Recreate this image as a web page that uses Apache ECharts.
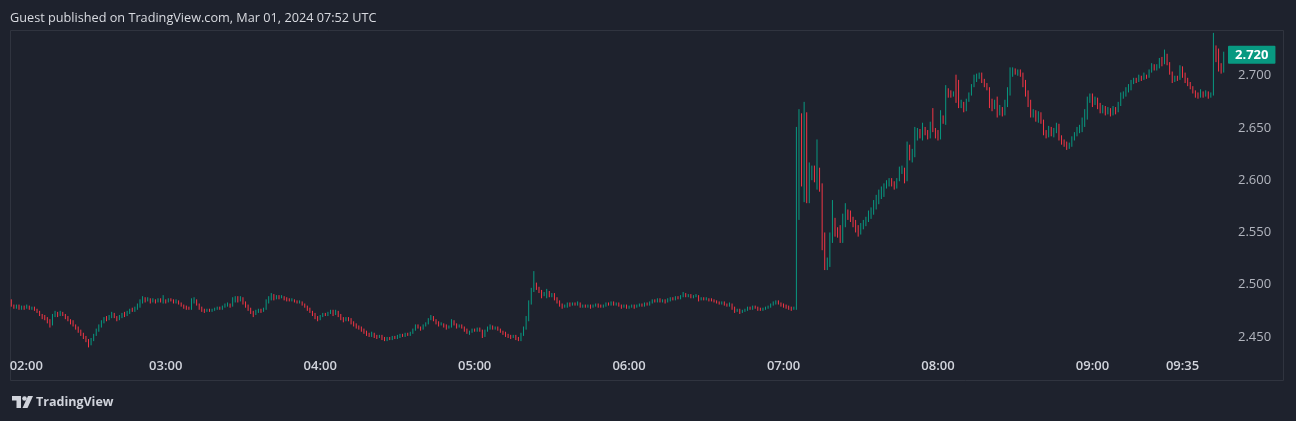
<!DOCTYPE html>
<html>
<head>
<meta charset="utf-8">
<script src="https://cdn.jsdelivr.net/npm/echarts@6/dist/echarts.min.js"></script>
<style>
html,body{margin:0;padding:0;background:#1e222d;}
#chart{width:1296px;height:421px;}
</style>
</head>
<body>
<div id="chart"></div>
<script>
// 1-minute candles starting at 02:00
const startHour = 2;
const xTickLabels = ['02:00','03:00','04:00','05:00','06:00','07:00','08:00','09:00','09:35'];
const yTickValues = [2.45, 2.50, 2.55, 2.60, 2.65, 2.70];

const opens = [
2.484,2.480,2.479,2.480,2.478,2.479,2.478,2.479,2.477,2.478,
2.476,2.474,2.471,2.470,2.468,2.466,2.462,2.470,2.472,2.471,
2.473,2.471,2.469,2.466,2.465,2.461,2.459,2.456,2.453,2.450,
2.447,2.443,2.447,2.452,2.456,2.460,2.464,2.468,2.467,2.470,
2.472,2.470,2.468,2.470,2.472,2.471,2.474,2.476,2.475,2.478,
2.481,2.484,2.487,2.485,2.486,2.484,2.485,2.484,2.486,2.484,
2.485,2.484,2.486,2.485,2.484,2.485,2.482,2.480,2.479,2.478,
2.477,2.484,2.486,2.482,2.478,2.476,2.475,2.476,2.475,2.476,
2.477,2.478,2.477,2.479,2.480,2.481,2.480,2.484,2.486,2.485,
2.487,2.483,2.480,2.477,2.474,2.472,2.474,2.476,2.475,2.477,
2.483,2.487,2.490,2.487,2.489,2.488,2.489,2.487,2.486,2.485,
2.486,2.484,2.483,2.484,2.481,2.479,2.477,2.474,2.472,2.469,
2.467,2.470,2.472,2.471,2.473,2.474,2.472,2.474,2.471,2.468,
2.466,2.468,2.467,2.464,2.462,2.460,2.459,2.457,2.455,2.453,
2.452,2.453,2.451,2.450,2.451,2.449,2.448,2.449,2.448,2.450,
2.449,2.451,2.452,2.451,2.453,2.452,2.454,2.457,2.461,2.459,
2.458,2.461,2.463,2.467,2.469,2.466,2.464,2.462,2.463,2.461,
2.459,2.460,2.465,2.462,2.460,2.461,2.459,2.457,2.454,2.455,
2.457,2.456,2.458,2.456,2.451,2.456,2.458,2.460,2.458,2.459,
2.457,2.455,2.454,2.452,2.451,2.450,2.451,2.449,2.447,2.452,
2.458,2.466,2.482,2.494,2.500,2.497,2.494,2.490,2.491,2.494,
2.490,2.491,2.487,2.484,2.481,2.479,2.480,2.482,2.481,2.482,
2.481,2.482,2.479,2.480,2.479,2.480,2.479,2.480,2.481,2.480,
2.479,2.480,2.482,2.481,2.483,2.481,2.482,2.480,2.479,2.480,
2.478,2.479,2.480,2.479,2.480,2.481,2.480,2.482,2.481,2.483,
2.485,2.484,2.486,2.484,2.485,2.484,2.486,2.487,2.486,2.488,
2.487,2.489,2.491,2.489,2.490,2.488,2.489,2.490,2.486,2.487,
2.486,2.487,2.486,2.485,2.484,2.483,2.482,2.483,2.481,2.480,
2.482,2.478,2.475,2.476,2.474,2.475,2.476,2.478,2.477,2.479,
2.478,2.477,2.476,2.477,2.478,2.479,2.481,2.482,2.484,2.482,
2.481,2.480,2.479,2.478,2.477,2.477,2.646,2.660,2.610,2.655,
2.600,2.612,2.613,2.602,2.612,2.593,2.545,2.518,2.524,2.545,
2.564,2.552,2.548,2.544,2.562,2.572,2.569,2.563,2.558,2.553,
2.549,2.556,2.560,2.563,2.568,2.572,2.578,2.583,2.588,2.591,
2.595,2.598,2.601,2.598,2.594,2.600,2.610,2.611,2.600,2.634,
2.622,2.628,2.646,2.648,2.643,2.650,2.646,2.641,2.653,2.648,
2.642,2.640,2.660,2.656,2.686,2.684,2.681,2.683,2.680,2.670,
2.674,2.668,2.676,2.682,2.690,2.698,2.700,2.701,2.695,2.691,
2.688,2.672,2.670,2.675,2.663,2.668,2.664,2.674,2.686,2.704,
2.706,2.703,2.705,2.702,2.692,2.683,2.673,2.663,2.666,2.659,
2.664,2.657,2.646,2.642,2.650,2.646,2.649,2.653,2.641,2.637,
2.634,2.632,2.634,2.640,2.644,2.648,2.651,2.657,2.666,2.676,
2.681,2.675,2.678,2.671,2.666,2.670,2.665,2.668,2.664,2.668,
2.666,2.672,2.681,2.683,2.687,2.690,2.694,2.696,2.695,2.699,
2.697,2.700,2.699,2.704,2.710,2.707,2.709,2.714,2.712,2.720,
2.712,2.703,2.695,2.698,2.697,2.707,2.702,2.696,2.692,2.689,
2.685,2.681,2.680,2.684,2.681,2.684,2.680,2.683,2.728,2.716,
2.707,2.705
];

const closes = [
2.480,2.479,2.480,2.478,2.479,2.478,2.479,2.477,2.478,2.476,
2.474,2.471,2.470,2.468,2.466,2.462,2.470,2.472,2.471,2.473,
2.471,2.469,2.466,2.465,2.461,2.459,2.456,2.453,2.450,2.447,
2.443,2.447,2.452,2.456,2.460,2.464,2.468,2.467,2.470,2.472,
2.470,2.468,2.470,2.472,2.471,2.474,2.476,2.475,2.478,2.481,
2.484,2.487,2.485,2.486,2.484,2.485,2.484,2.486,2.484,2.485,
2.484,2.486,2.485,2.484,2.485,2.482,2.480,2.479,2.478,2.477,
2.484,2.486,2.482,2.478,2.476,2.475,2.476,2.475,2.476,2.477,
2.478,2.477,2.479,2.480,2.481,2.480,2.484,2.486,2.485,2.487,
2.483,2.480,2.477,2.474,2.472,2.474,2.476,2.475,2.477,2.483,
2.487,2.490,2.487,2.489,2.488,2.489,2.487,2.486,2.485,2.486,
2.484,2.483,2.484,2.481,2.479,2.477,2.474,2.472,2.469,2.467,
2.470,2.472,2.471,2.473,2.474,2.472,2.474,2.471,2.468,2.466,
2.468,2.467,2.464,2.462,2.460,2.459,2.457,2.455,2.453,2.452,
2.453,2.451,2.450,2.451,2.449,2.448,2.449,2.448,2.450,2.449,
2.451,2.452,2.451,2.453,2.452,2.454,2.457,2.461,2.459,2.458,
2.461,2.463,2.467,2.469,2.466,2.464,2.462,2.463,2.461,2.459,
2.460,2.465,2.462,2.460,2.461,2.459,2.457,2.454,2.455,2.457,
2.456,2.458,2.456,2.451,2.456,2.458,2.460,2.458,2.459,2.457,
2.455,2.454,2.452,2.451,2.450,2.451,2.449,2.447,2.452,2.458,
2.466,2.482,2.494,2.500,2.497,2.494,2.490,2.491,2.494,2.490,
2.491,2.487,2.484,2.481,2.479,2.480,2.482,2.481,2.482,2.481,
2.482,2.479,2.480,2.479,2.480,2.479,2.480,2.481,2.480,2.479,
2.480,2.482,2.481,2.483,2.481,2.482,2.480,2.479,2.480,2.478,
2.479,2.480,2.479,2.480,2.481,2.480,2.482,2.481,2.483,2.485,
2.484,2.486,2.484,2.485,2.484,2.486,2.487,2.486,2.488,2.487,
2.489,2.491,2.489,2.490,2.488,2.489,2.490,2.486,2.487,2.486,
2.487,2.486,2.485,2.484,2.483,2.482,2.483,2.481,2.480,2.482,
2.478,2.475,2.476,2.474,2.475,2.476,2.478,2.477,2.479,2.478,
2.477,2.476,2.477,2.478,2.479,2.481,2.482,2.484,2.482,2.481,
2.480,2.479,2.478,2.477,2.478,2.646,2.660,2.610,2.655,2.600,
2.612,2.613,2.602,2.630,2.593,2.545,2.520,2.524,2.545,2.570,
2.550,2.548,2.544,2.562,2.575,2.564,2.562,2.557,2.552,2.549,
2.556,2.560,2.563,2.568,2.572,2.578,2.583,2.588,2.591,2.595,
2.598,2.601,2.598,2.594,2.600,2.610,2.611,2.600,2.634,2.622,
2.628,2.646,2.648,2.643,2.650,2.646,2.641,2.653,2.648,2.642,
2.640,2.660,2.656,2.686,2.684,2.681,2.683,2.680,2.670,2.674,
2.668,2.676,2.682,2.690,2.698,2.700,2.701,2.695,2.691,2.688,
2.672,2.670,2.675,2.663,2.668,2.664,2.674,2.686,2.704,2.706,
2.703,2.705,2.702,2.692,2.683,2.673,2.663,2.666,2.659,2.664,
2.657,2.646,2.642,2.650,2.646,2.649,2.653,2.641,2.637,2.634,
2.632,2.634,2.640,2.644,2.648,2.651,2.657,2.666,2.676,2.681,
2.675,2.678,2.671,2.666,2.670,2.665,2.668,2.664,2.668,2.666,
2.672,2.681,2.683,2.687,2.690,2.694,2.696,2.695,2.699,2.697,
2.700,2.699,2.704,2.710,2.707,2.709,2.714,2.712,2.720,2.712,
2.703,2.695,2.698,2.697,2.707,2.702,2.696,2.692,2.689,2.685,
2.681,2.680,2.684,2.681,2.684,2.680,2.683,2.728,2.716,2.707,
2.705,2.720
];

const highs = [
2.486,2.481,2.481,2.481,2.480,2.480,2.481,2.480,2.479,2.479,
2.477,2.475,2.472,2.471,2.469,2.467,2.472,2.475,2.474,2.475,
2.474,2.472,2.470,2.467,2.466,2.462,2.460,2.457,2.454,2.451,
2.448,2.449,2.453,2.458,2.462,2.466,2.469,2.470,2.471,2.474,
2.473,2.470,2.471,2.473,2.474,2.475,2.477,2.478,2.479,2.482,
2.486,2.489,2.488,2.488,2.487,2.487,2.486,2.487,2.487,2.490,
2.486,2.487,2.487,2.486,2.486,2.485,2.483,2.481,2.480,2.479,
2.487,2.488,2.486,2.482,2.479,2.477,2.477,2.477,2.477,2.478,
2.479,2.479,2.480,2.482,2.483,2.482,2.488,2.489,2.489,2.489,
2.488,2.484,2.481,2.478,2.475,2.476,2.477,2.477,2.478,2.486,
2.489,2.492,2.491,2.490,2.490,2.490,2.489,2.488,2.487,2.487,
2.486,2.485,2.485,2.484,2.482,2.480,2.478,2.475,2.473,2.470,
2.471,2.473,2.473,2.474,2.476,2.476,2.476,2.475,2.472,2.469,
2.469,2.469,2.468,2.465,2.463,2.461,2.460,2.458,2.456,2.454,
2.455,2.454,2.452,2.452,2.452,2.450,2.450,2.450,2.451,2.451,
2.452,2.453,2.453,2.454,2.454,2.455,2.458,2.462,2.462,2.460,
2.462,2.464,2.468,2.471,2.470,2.467,2.465,2.464,2.463,2.462,
2.461,2.467,2.466,2.463,2.462,2.462,2.460,2.458,2.456,2.458,
2.458,2.459,2.459,2.457,2.457,2.460,2.462,2.461,2.460,2.460,
2.458,2.456,2.455,2.453,2.452,2.452,2.452,2.450,2.454,2.460,
2.470,2.485,2.497,2.513,2.502,2.498,2.495,2.493,2.496,2.494,
2.492,2.492,2.488,2.485,2.482,2.481,2.483,2.483,2.483,2.483,
2.484,2.483,2.481,2.481,2.481,2.481,2.481,2.482,2.482,2.481,
2.481,2.483,2.483,2.484,2.484,2.483,2.483,2.481,2.481,2.481,
2.480,2.481,2.481,2.481,2.482,2.482,2.483,2.483,2.484,2.486,
2.486,2.487,2.487,2.486,2.486,2.487,2.488,2.488,2.489,2.489,
2.490,2.493,2.492,2.491,2.491,2.490,2.491,2.490,2.488,2.488,
2.488,2.487,2.487,2.486,2.485,2.484,2.484,2.484,2.482,2.483,
2.482,2.479,2.477,2.477,2.476,2.477,2.479,2.479,2.480,2.480,
2.479,2.478,2.478,2.479,2.480,2.482,2.484,2.485,2.485,2.483,
2.482,2.481,2.480,2.479,2.479,2.651,2.668,2.664,2.675,2.665,
2.617,2.614,2.614,2.639,2.612,2.597,2.550,2.526,2.550,2.581,
2.564,2.555,2.557,2.568,2.578,2.572,2.571,2.565,2.562,2.557,
2.559,2.562,2.565,2.571,2.574,2.581,2.586,2.591,2.594,2.597,
2.600,2.602,2.602,2.599,2.602,2.613,2.614,2.612,2.637,2.634,
2.630,2.651,2.650,2.649,2.655,2.651,2.648,2.656,2.669,2.650,
2.648,2.667,2.662,2.691,2.688,2.686,2.685,2.701,2.696,2.677,
2.675,2.678,2.684,2.692,2.701,2.702,2.703,2.703,2.697,2.693,
2.689,2.678,2.677,2.680,2.672,2.670,2.677,2.689,2.708,2.708,
2.707,2.706,2.706,2.703,2.696,2.686,2.677,2.668,2.667,2.666,
2.665,2.658,2.648,2.652,2.651,2.650,2.655,2.654,2.643,2.639,
2.637,2.636,2.642,2.646,2.651,2.653,2.660,2.668,2.680,2.683,
2.683,2.680,2.679,2.674,2.672,2.671,2.670,2.669,2.671,2.670,
2.675,2.684,2.685,2.689,2.692,2.696,2.698,2.698,2.701,2.700,
2.703,2.701,2.706,2.712,2.711,2.711,2.717,2.718,2.725,2.721,
2.713,2.704,2.700,2.700,2.710,2.709,2.703,2.698,2.694,2.690,
2.686,2.684,2.687,2.685,2.686,2.685,2.684,2.741,2.729,2.726,
2.712,2.723
];

const lows = [
2.479,2.477,2.477,2.476,2.476,2.476,2.477,2.476,2.476,2.475,
2.473,2.470,2.467,2.466,2.463,2.459,2.461,2.469,2.469,2.470,
2.470,2.467,2.465,2.462,2.460,2.457,2.454,2.451,2.448,2.445,
2.440,2.442,2.446,2.451,2.455,2.459,2.463,2.465,2.466,2.468,
2.468,2.465,2.466,2.468,2.469,2.470,2.472,2.474,2.474,2.476,
2.478,2.482,2.483,2.484,2.482,2.483,2.482,2.483,2.483,2.482,
2.482,2.483,2.484,2.482,2.482,2.481,2.479,2.477,2.476,2.476,
2.476,2.482,2.480,2.476,2.474,2.473,2.474,2.474,2.474,2.475,
2.476,2.476,2.476,2.478,2.479,2.478,2.479,2.483,2.483,2.484,
2.481,2.478,2.475,2.472,2.469,2.471,2.473,2.473,2.474,2.476,
2.482,2.485,2.485,2.486,2.486,2.487,2.485,2.484,2.484,2.484,
2.483,2.482,2.482,2.480,2.478,2.475,2.473,2.470,2.467,2.465,
2.466,2.469,2.470,2.470,2.472,2.470,2.471,2.469,2.466,2.464,
2.465,2.465,2.462,2.460,2.458,2.457,2.455,2.453,2.451,2.450,
2.450,2.449,2.448,2.449,2.447,2.446,2.446,2.447,2.447,2.448,
2.448,2.449,2.450,2.450,2.451,2.451,2.453,2.456,2.458,2.456,
2.457,2.460,2.462,2.466,2.465,2.462,2.460,2.461,2.459,2.457,
2.458,2.459,2.461,2.458,2.459,2.458,2.455,2.453,2.452,2.454,
2.455,2.455,2.455,2.449,2.450,2.455,2.457,2.457,2.457,2.456,
2.454,2.452,2.450,2.449,2.448,2.449,2.447,2.446,2.446,2.451,
2.457,2.465,2.481,2.493,2.495,2.492,2.487,2.489,2.487,2.488,
2.488,2.485,2.482,2.479,2.477,2.478,2.478,2.479,2.480,2.480,
2.480,2.478,2.478,2.478,2.478,2.477,2.478,2.479,2.478,2.478,
2.478,2.479,2.480,2.480,2.480,2.480,2.479,2.477,2.478,2.477,
2.477,2.478,2.477,2.478,2.479,2.479,2.479,2.480,2.480,2.482,
2.483,2.483,2.483,2.483,2.482,2.483,2.484,2.485,2.485,2.486,
2.486,2.488,2.488,2.488,2.487,2.487,2.488,2.484,2.485,2.485,
2.485,2.484,2.484,2.483,2.482,2.481,2.481,2.480,2.479,2.479,
2.476,2.473,2.474,2.472,2.473,2.474,2.475,2.476,2.476,2.477,
2.475,2.475,2.475,2.476,2.477,2.478,2.480,2.481,2.481,2.479,
2.478,2.477,2.476,2.475,2.476,2.476,2.562,2.594,2.579,2.578,
2.578,2.600,2.598,2.591,2.589,2.533,2.514,2.514,2.517,2.540,
2.546,2.545,2.540,2.540,2.555,2.562,2.560,2.555,2.550,2.546,
2.548,2.553,2.556,2.560,2.563,2.567,2.572,2.577,2.582,2.584,
2.592,2.594,2.594,2.591,2.592,2.599,2.606,2.597,2.599,2.619,
2.617,2.622,2.638,2.640,2.638,2.643,2.639,2.640,2.646,2.640,
2.638,2.639,2.654,2.653,2.679,2.679,2.680,2.674,2.669,2.669,
2.665,2.666,2.675,2.681,2.689,2.694,2.697,2.693,2.689,2.686,
2.669,2.666,2.668,2.660,2.662,2.661,2.662,2.670,2.681,2.699,
2.701,2.700,2.699,2.689,2.680,2.670,2.660,2.660,2.656,2.655,
2.654,2.643,2.640,2.641,2.642,2.641,2.645,2.638,2.634,2.632,
2.629,2.630,2.632,2.638,2.642,2.645,2.646,2.651,2.658,2.674,
2.670,2.672,2.668,2.664,2.664,2.662,2.663,2.661,2.662,2.663,
2.665,2.671,2.678,2.680,2.684,2.686,2.692,2.693,2.694,2.695,
2.696,2.697,2.698,2.703,2.705,2.705,2.707,2.709,2.711,2.710,
2.701,2.693,2.694,2.695,2.696,2.698,2.693,2.690,2.687,2.683,
2.679,2.678,2.679,2.679,2.680,2.678,2.679,2.681,2.713,2.704,
2.702,2.703
];

// minute categories
const times = [];
for (let m = 0; m < closes.length; m++) {
  const h = startHour + Math.floor(m / 60), mm = m % 60;
  times.push((h < 10 ? '0' : '') + h + ':' + (mm < 10 ? '0' : '') + mm);
}
const candleData = closes.map((c, i) => [opens[i], c, lows[i], highs[i]]);
const lastClose = closes[closes.length - 1];

const UP = '#089981', DOWN = '#f23645';
const FONT = 'Open Sans';

const chart = echarts.init(document.getElementById('chart'), null, {renderer: 'canvas'});
chart.setOption({
  backgroundColor: '#1e222d',
  animation: false,
  title: {
    text: 'Guest published on TradingView.com, Mar 01, 2024 07:52 UTC',
    left: 5, top: 7,
    textStyle: {color: '#d9dbe1', fontSize: 12.7, fontWeight: 'normal', fontFamily: FONT}
  },
  grid: {left: 10, right: 71, top: 28.7, bottom: 52.7},
  xAxis: {
    type: 'category',
    data: times,
    boundaryGap: true,
    offset: -12,
    axisLine: {show: false},
    axisTick: {show: false},
    splitLine: {show: false},
    axisLabel: {
      interval: (idx, val) => xTickLabels.indexOf(val) >= 0,
      formatter: (val, idx) => idx === 0 ? '{first|' + val + '}' : val,
      rich: {first: {padding: [0, 0, 0, 30], color: '#d1d4dc', fontSize: 13, fontWeight: 600, fontFamily: FONT}},
      color: '#d1d4dc', fontSize: 13, fontWeight: 600, fontFamily: FONT, margin: 3
    }
  },
  yAxis: {
    type: 'value',
    position: 'right',
    min: 2.42, max: 2.745,
    axisLine: {show: false},
    axisTick: {show: false},
    splitLine: {show: false},
    axisLabel: {
      customValues: yTickValues,
      formatter: v => v.toFixed(3),
      color: '#b2b5be', fontSize: 13, fontFamily: FONT, margin: 13
    }
  },
  series: [{
    type: 'candlestick',
    data: candleData,
    large: true,
    largeThreshold: 50,
    itemStyle: {color: UP, color0: DOWN, borderColor: UP, borderColor0: DOWN, borderWidth: 1},
    markLine: {
      silent: true,
      symbol: ['none', 'none'],
      emphasis: {disabled: true},
      lineStyle: {color: 'rgba(0,0,0,0)', width: 0, type: 'solid'},
      label: {
        show: true,
        position: 'end', distance: 3,
        formatter: p => Number(p.value).toFixed(3),
        backgroundColor: UP, color: '#ffffff', padding: [3, 7, 2, 7],
        fontSize: 13, fontWeight: 'bold', fontFamily: FONT, borderRadius: 1
      },
      data: [{yAxis: lastClose}]
    }
  }],
  graphic: [
    {type: 'rect', z: -1, silent: true, shape: {x: 10.5, y: 30.5, width: 1273, height: 350},
     style: {fill: null, stroke: '#30343f', lineWidth: 1}},
    {type: 'polygon', silent: true, shape: {points: [[12,396],[21,396],[21,408],[16.5,408],[16.5,400.5],[12,400.5]]}, style: {fill: '#d1d4dc'}},
    {type: 'circle', silent: true, shape: {cx: 24.5, cy: 398.5, r: 2.3}, style: {fill: '#d1d4dc'}},
    {type: 'polygon', silent: true, shape: {points: [[28,396],[33,396],[27.5,408],[22.5,408]]}, style: {fill: '#d1d4dc'}},
    {type: 'text', silent: true, left: 36, top: 395.5,
     style: {text: 'TradingView', fill: '#d1d4dc', fontSize: 12.5, fontWeight: 'bold', fontFamily: FONT}}
  ]
});
</script>
</body>
</html>
